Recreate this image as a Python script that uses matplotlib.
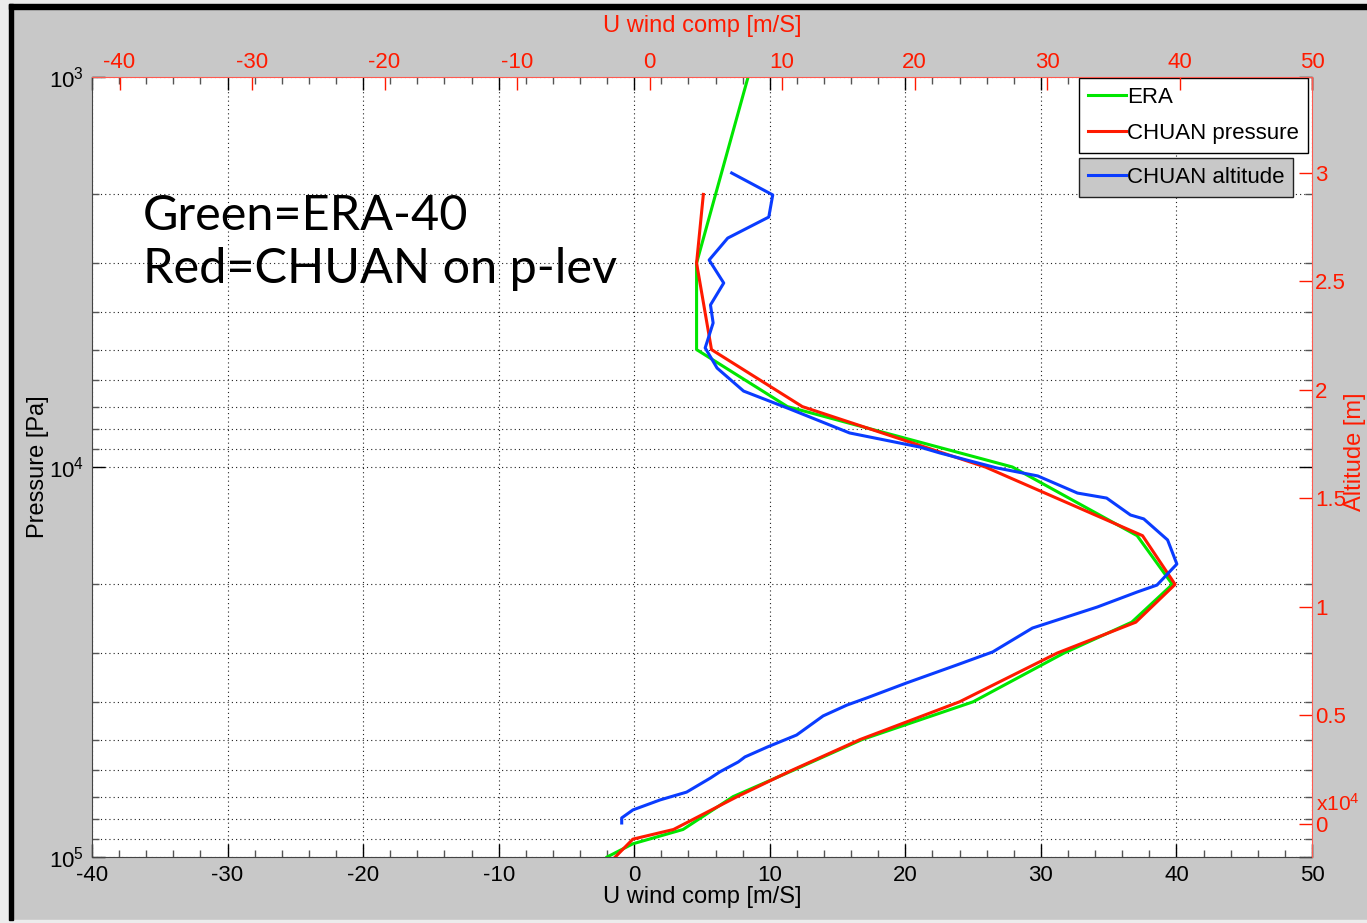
import math
import matplotlib as mpl
mpl.use('Agg')
import matplotlib.pyplot as plt
from matplotlib.patches import Rectangle
from matplotlib.ticker import LogLocator, NullFormatter, FuncFormatter, MultipleLocator

plt.rcParams['font.family'] = ['Liberation Sans', 'DejaVu Sans']
plt.rcParams['mathtext.fontset'] = 'custom'
plt.rcParams['mathtext.rm'] = 'Liberation Sans'
plt.rcParams['axes.unicode_minus'] = False

# ERA-40 profile on pressure levels (Pa, m/s)
era_p = [100000, 92500, 85000, 70000, 60000, 50000, 40000, 30000, 25000,
         20000, 15000, 10000, 7000, 5000, 4000, 3000, 2000, 1000]
era_u = [-2.0, -0.1, 3.6, 7.3, 11.7, 16.8, 25.0, 31.7, 36.7,
         39.7, 37.1, 27.9, 11.3, 4.6, 4.6, 4.6, 6.0, 8.4]

# CHUAN interpolated onto pressure levels
chuan_p = [100000, 90000, 85000, 70000, 60000, 50000, 40000, 30000, 25000,
           20000, 15000, 10000, 7000, 5000, 3000, 2000]
chuan_u = [-1.4, -0.1, 2.9, 7.6, 11.6, 16.65, 24.0, 31.2, 37.0,
           39.9, 37.5, 25.9, 12.4, 5.7, 4.6, 5.1]

# CHUAN original altitude profile (m, m/s)
alt_z = [46, 280, 650, 1110, 1470, 2120, 2400, 2860, 3090, 3550, 4100,
         4980, 5480, 5810, 6500, 7330, 7930, 9030, 10000, 10690, 11010,
         11980, 13090, 14060, 14240, 15020, 15250, 16040, 16410, 17100,
         17370, 18020, 19170, 19950, 21010, 21940, 23090, 23920, 24930,
         25990, 27000, 27970, 28990, 30000]
alt_u = [-2.1, -2.1, -1.25, 0.8, 2.8, 4.6, 5.3, 6.7, 7.2, 8.9, 11.1,
         13.1, 14.9, 16.4, 19.4, 23.2, 25.9, 28.9, 33.8, 36.8, 38.3,
         39.8, 39.1, 37.3, 36.3, 34.5, 32.3, 29.3, 26.2, 21.9,
         20.4, 15.1, 10.4, 7.1, 5.1, 4.2, 4.8, 4.6, 5.6,
         4.5, 5.9, 9.0, 9.3, 6.2]

bg = '#c8c8c8'
red = '#ff1a00'

fig = plt.figure(figsize=(13.67, 9.23), dpi=100, facecolor=bg)
W, H = 1367.0, 923.0

# window border
fig.add_artist(Rectangle((0, 0), 9 / W, 1, transform=fig.transFigure, color='#ececec', zorder=-5))
fig.add_artist(Rectangle((0, 1 - 4 / H), 1, 4 / H, transform=fig.transFigure, color='#ececec', zorder=-5))
fig.add_artist(Rectangle((0, 0), 1, 3 / H, transform=fig.transFigure, color='#ececec', zorder=-5))
fig.add_artist(Rectangle((9 / W, 3 / H), 4 / W, 1 - 7 / H, transform=fig.transFigure, color='black', zorder=-4))
fig.add_artist(Rectangle((9 / W, 1 - 9 / H), 1 - 9 / W, 5 / H, transform=fig.transFigure, color='black', zorder=-4))

pos = [92 / W, 1 - 857 / H, 1220 / W, 780 / H]
ax1 = fig.add_axes(pos)
ax1.set_facecolor('white')

l1, = ax1.plot(era_u, era_p, color='#00e600', lw=2.2, label='ERA')
l2, = ax1.plot(chuan_u, chuan_p, color=red, lw=2.2, label='CHUAN pressure')

ax1.set_yscale('log')
ax1.set_ylim(1e5, 1e3)
ax1.set_xlim(-40, 50)
ax1.xaxis.set_major_locator(MultipleLocator(10))
ax1.xaxis.set_minor_locator(MultipleLocator(2))
ax1.yaxis.set_major_locator(LogLocator(base=10, numticks=5))
ax1.yaxis.set_minor_locator(LogLocator(base=10, subs=range(2, 10), numticks=20))
ax1.yaxis.set_minor_formatter(NullFormatter())
ax1.yaxis.set_major_formatter(FuncFormatter(
    lambda v, p: r'$\mathregular{10^{%d}}$' % round(math.log10(v))))

gridkw = dict(color='#222222', lw=0.8, linestyle=(0, (1, 2.8)))
ax1.grid(True, which='major', axis='x', **gridkw)
ax1.grid(True, which='both', axis='y', **gridkw)
ax1.tick_params(which='both', direction='in', top=True, right=True,
                labelsize=16, colors='black', pad=6)
ax1.tick_params(which='major', length=9.5, width=1)
ax1.tick_params(which='minor', length=5, width=1, color='#555555')
for s in ['top', 'right']:
    ax1.spines[s].set_visible(False)
for s in ['left', 'bottom']:
    ax1.spines[s].set_color('#444444')
ax1.set_xlabel('U wind comp [m/S]', fontsize=17, labelpad=0)
ax1.set_ylabel('Pressure [Pa]', fontsize=17, labelpad=0)

ax1.text(0.042, 0.85, 'Green=ERA-40\nRed=CHUAN on p-lev', transform=ax1.transAxes,
         fontsize=35, family='Lato', va='top', ha='left', linespacing=1.25)

leg1 = ax1.legend(handles=[l1, l2], loc='upper left', bbox_to_anchor=(0.809, 0.999),
                  fontsize=16, frameon=True, fancybox=False, framealpha=1,
                  edgecolor='black', facecolor='white', handlelength=1.7,
                  handletextpad=0.05, labelspacing=0.7, borderpad=0.4,
                  borderaxespad=0)
leg1.get_frame().set_linewidth(1)

# second axes: altitude profile on top/right scales
ax2 = fig.add_axes(pos, label='altitude')
ax2.patch.set_visible(False)
l3, = ax2.plot(alt_u, alt_z, color='#0a3cff', lw=2.2, label='CHUAN altitude')
ax2.set_xlim(-42.08, 50)
ax2.set_ylim(-1521, 34424)
ax2.xaxis.tick_top()
ax2.xaxis.set_label_position('top')
ax2.yaxis.tick_right()
ax2.yaxis.set_label_position('right')
ax2.xaxis.set_major_locator(MultipleLocator(10))
ax2.yaxis.set_major_locator(MultipleLocator(5000))
ax2.yaxis.set_major_formatter(FuncFormatter(lambda v, p: '%g' % (v / 1e4)))
ax2.tick_params(direction='in', colors=red, labelsize=16, length=9.5, width=1, pad=3)
ax2.tick_params(axis='y', pad=2)
for s in ['left', 'bottom']:
    ax2.spines[s].set_visible(False)
for s in ['top', 'right']:
    ax2.spines[s].set_color('#ff5a50')
ax2.set_xlabel('U wind comp [m/S]', fontsize=17, color=red, labelpad=14)
ax2.set_ylabel('Altitude [m]', fontsize=17, color=red)
ax2.yaxis.set_label_coords(1.0265, 0.52)
ax2.text(1.003, 0.068, r'x$\mathregular{10^{4}}$', transform=ax2.transAxes,
         color=red, fontsize=15, ha='left', va='center')

leg2 = ax2.legend(handles=[l3], loc='upper left', bbox_to_anchor=(0.809, 0.896),
                  fontsize=16, frameon=True, fancybox=False, framealpha=1,
                  edgecolor='#222222', facecolor=bg, handlelength=1.7,
                  handletextpad=0.05, borderpad=0.4, borderaxespad=0)
leg2.get_frame().set_linewidth(1)

fig.savefig('out.png', dpi=100, facecolor=bg)
